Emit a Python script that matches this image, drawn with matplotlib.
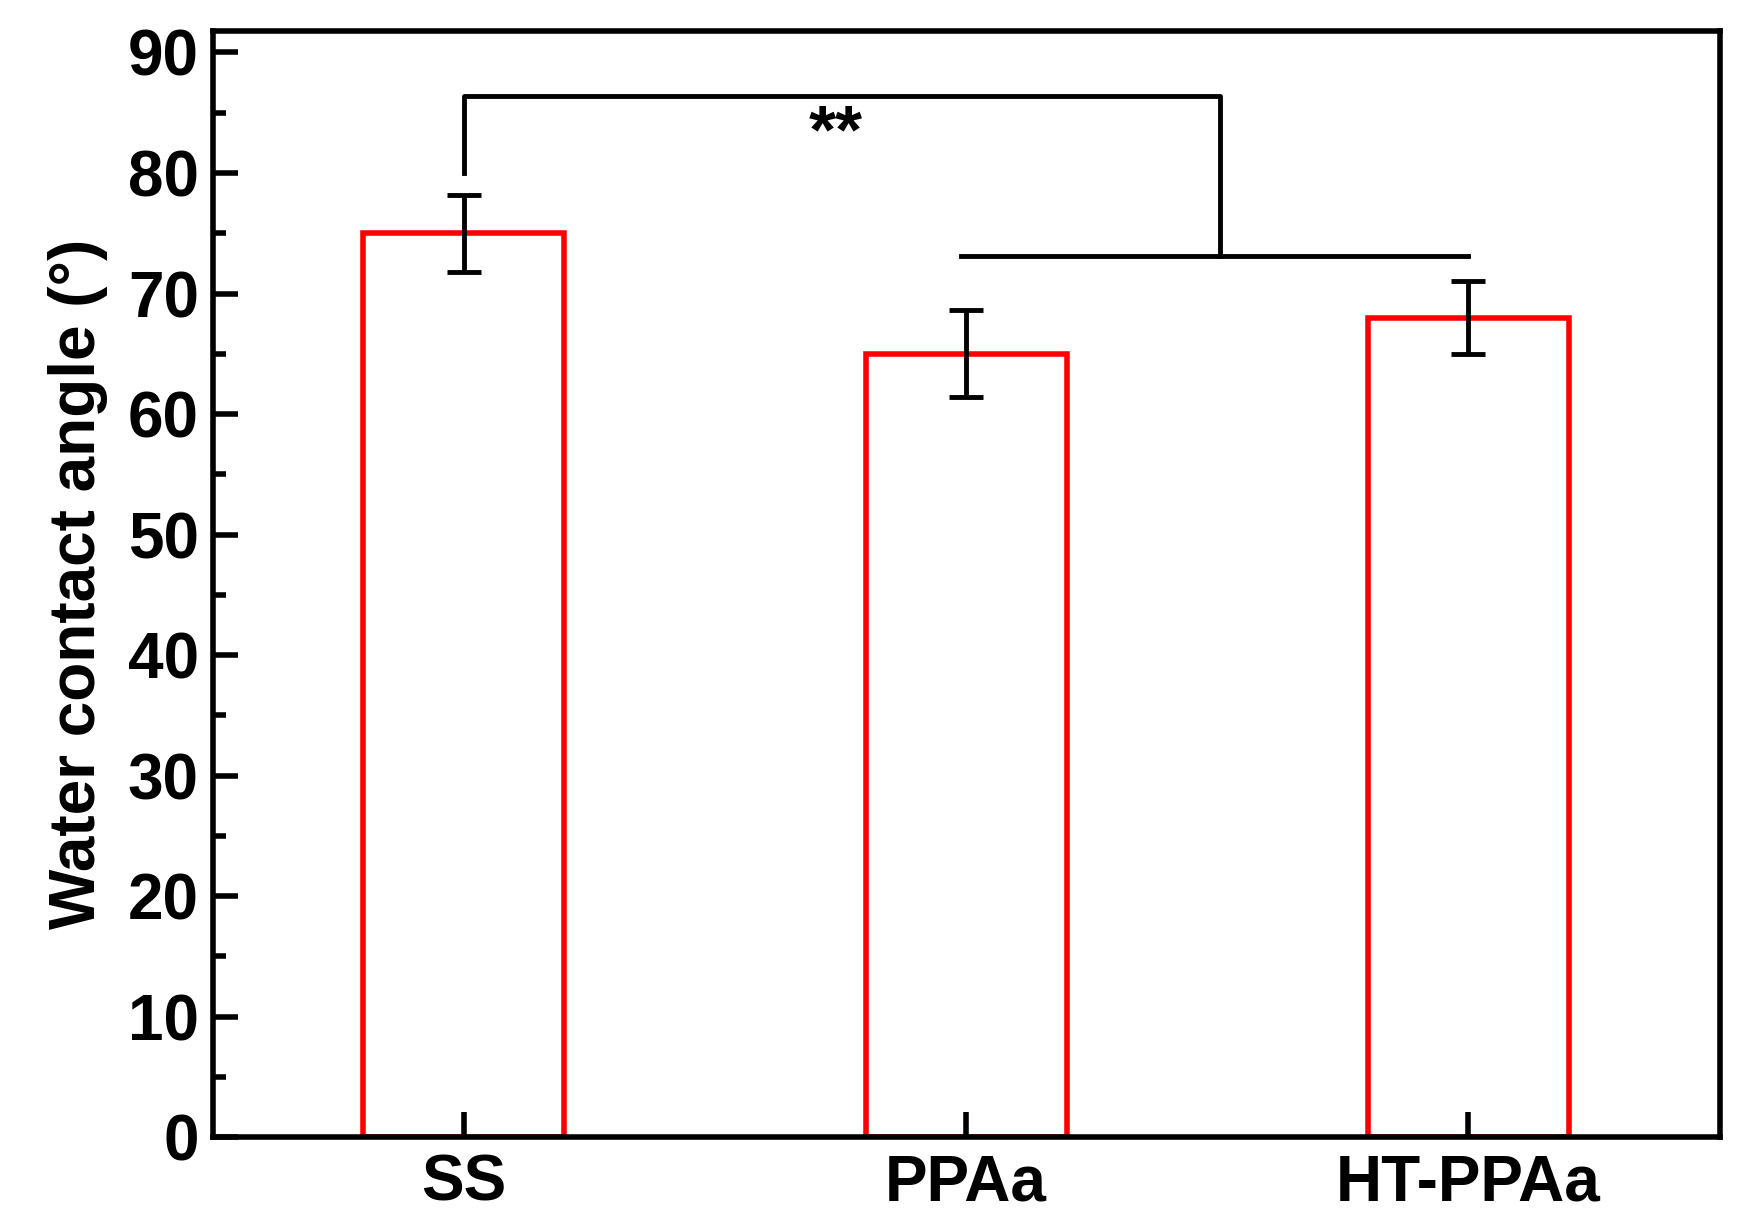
import matplotlib
matplotlib.use("Agg")
import matplotlib.pyplot as plt
from matplotlib.ticker import MultipleLocator

categories = ["SS", "PPAa", "HT-PPAa"]
values = [75, 65, 68]
errors = [3.2, 3.6, 3.0]

plt.rcParams['font.family'] = ['Liberation Sans', 'DejaVu Sans']
plt.rcParams['font.weight'] = 'bold'
fig = plt.figure(figsize=(17.44, 12.32), dpi=100)
ax = fig.add_axes([0.122, 0.077, 0.864, 0.898])
ax.set_axisbelow(False)
x = list(range(len(categories)))
ax.bar(x, values, width=0.4, facecolor='white', edgecolor='#ff0000', linewidth=4, zorder=2)
ax.errorbar(x, values, yerr=errors, fmt='none', ecolor='black', elinewidth=3.5, capsize=12, capthick=3.5, zorder=3)
ax.set_xlim(-0.5, 2.5)
ax.set_ylim(0, 91.8)
ax.set_xticks(x)
ax.set_xticklabels(categories)
ax.yaxis.set_major_locator(MultipleLocator(10))
ax.yaxis.set_minor_locator(MultipleLocator(5))
ax.tick_params(axis='both', which='major', direction='in', length=18, width=4, labelsize=46)
ax.tick_params(axis='y', which='minor', direction='in', length=9, width=4)
ax.tick_params(axis='x', pad=12)
ax.tick_params(axis='y', pad=10)
for s in ax.spines.values():
    s.set_linewidth(4)
    s.set_zorder(5)
ax.set_ylabel("Water contact angle (°)", fontsize=46, fontweight='bold', labelpad=14)
# significance bracket
ax.plot([0, 0, 1.505, 1.505], [80, 86.4, 86.4, 73.1], color='black', lw=3.5)
ax.plot([0.99, 2.0], [73.1, 73.1], color='black', lw=3.5)
ax.text(0.74, 83.2, "**", ha='center', va='center', fontsize=50, fontweight='bold')
fig.savefig("out.png", dpi=100)
